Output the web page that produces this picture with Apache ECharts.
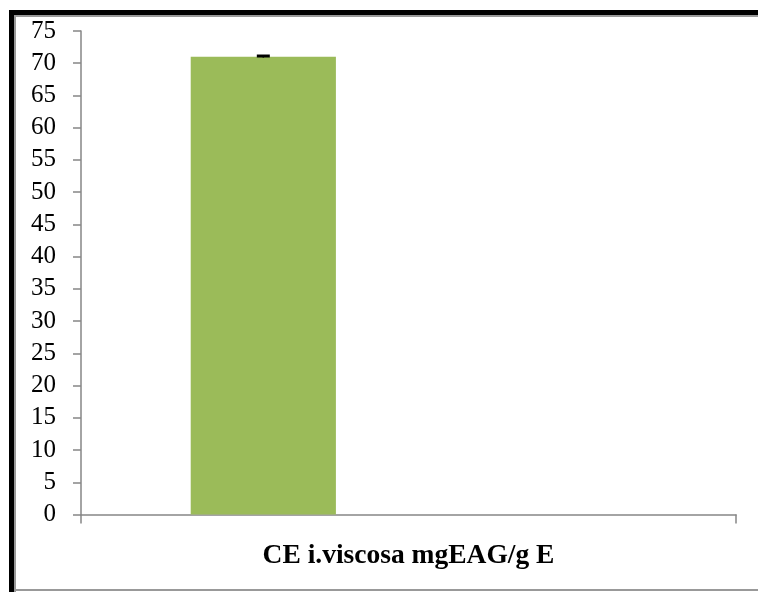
<!DOCTYPE html>
<html><head><meta charset="utf-8">
<script src="https://cdn.jsdelivr.net/npm/echarts@6/dist/echarts.min.js"></script>
<style>html,body{margin:0;padding:0;background:#fff}#c{width:758px;height:592px}</style>
</head><body><div id="c"></div>
<script>
var categories = ['CE i.viscosa mgEAG/g E'];
var seriesValues = [71.0];
var seriesError = [0.12];
var emptyA = [null];
var emptyB = [null];
var yTicks = [0,5,10,15,20,25,30,35,40,45,50,55,60,65,70,75];

var chart = echarts.init(document.getElementById('c'));
var font = '"Liberation Serif","Times New Roman",serif';
chart.setOption({
  animation: false,
  backgroundColor: '#fff',
  graphic: [
    {type:'rect', shape:{x:9,y:10,width:760,height:5}, style:{fill:'#000'}},
    {type:'rect', shape:{x:9,y:10,width:5,height:582}, style:{fill:'#000'}},
    {type:'rect', shape:{x:14,y:15,width:750,height:2}, style:{fill:'#999'}},
    {type:'rect', shape:{x:14,y:15,width:2,height:577}, style:{fill:'#999'}},
    {type:'rect', shape:{x:14,y:589,width:750,height:2}, style:{fill:'#999'}}
  ],
  grid: {left: 81, right: 22, top: 31, bottom: 77.5},
  xAxis: {
    type: 'category', data: categories,
    axisLine: {lineStyle: {color: '#868686', width: 1.5}},
    axisTick: {show: true, length: 9, lineStyle: {color: '#868686', width: 1.5}},
    axisLabel: {color: '#000', fontFamily: font, fontWeight: 'bold', fontSize: 27.5, margin: 27}
  },
  yAxis: {
    type: 'value', min: 0, max: 75, interval: 5,
    axisLine: {show: true, lineStyle: {color: '#868686', width: 1.5}},
    axisTick: {show: true, length: 8, lineStyle: {color: '#868686', width: 1.5}},
    splitLine: {show: false},
    axisLabel: {color: '#000', fontFamily: font, fontSize: 25, margin: 25,
      formatter: function(v){ return yTicks.indexOf(v) >= 0 ? String(v) : ''; }}
  },
  series: [
    {type: 'bar', data: seriesValues, itemStyle: {color: '#9bbb59'}, barGap: '0%', barCategoryGap: '33.5%'},
    {type: 'bar', data: emptyA, barGap: '0%', barCategoryGap: '33.5%'},
    {type: 'bar', data: emptyB, barGap: '0%', barCategoryGap: '33.5%'},
    {type: 'custom', z: 10,
      data: seriesValues.map(function(v,i){ return [i, v, seriesError[i]]; }),
      renderItem: function(params, api){
        var x = api.value(0), v = api.value(1), e = api.value(2);
        var size = api.size([1,0]);
        var bw = size[0] * (1 - 0.335) / 3;
        var p = api.coord([x, v]);
        var cx = p[0] - bw;
        var top = api.coord([x, v + e]);
        var bot = api.coord([x, v - e]);
        return {type:'group', children:[
          {type:'line', shape:{x1:cx, y1:top[1], x2:cx, y2:bot[1]}, style:{stroke:'#000', lineWidth:1.5}},
          {type:'line', shape:{x1:cx-6.5, y1:top[1], x2:cx+6.5, y2:top[1]}, style:{stroke:'#000', lineWidth:3}}
        ]};
      }
    }
  ]
});
</script></body></html>
